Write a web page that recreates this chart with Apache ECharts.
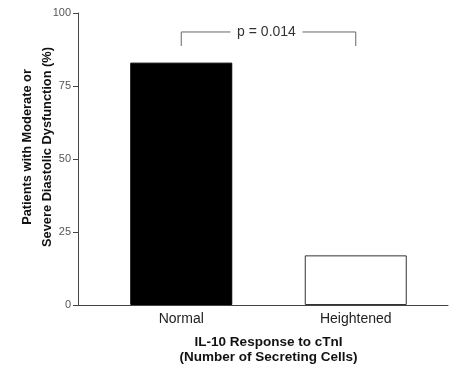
<!DOCTYPE html>
<html><head><meta charset="utf-8">
<script src="https://cdn.jsdelivr.net/npm/echarts@6/dist/echarts.min.js"></script>
<style>html,body{margin:0;padding:0;background:#fff}#c{width:450px;height:372px}</style>
</head><body><div id="c"></div>
<script>
const categories = ['Normal', 'Heightened'];
const values = [83, 17];
const yTicks = [0, 25, 50, 75, 100];
const bracketLow = 88.7;
const bracketHigh = 93.5;
const pLabel = 'p = 0.014';
const yName = 'Patients with Moderate or\nSevere Diastolic Dysfunction (%)';
const xName = 'IL-10 Response to cTnI\n(Number of Secreting Cells)';

const FONT = 'Liberation Sans, Arial, Helvetica, sans-serif';
const chart = echarts.init(document.getElementById('c'), null, {renderer: 'canvas'});
chart.setOption({
  animation: false,
  backgroundColor: '#fff',
  grid: [
    {left: 94, right: 7, top: 13, bottom: 67, containLabel: false, outerBoundsMode: 'none'},
    {left: 78, right: 2, top: 13, bottom: 67, containLabel: false, outerBoundsMode: 'none'}
  ],
  xAxis: [
    {
      type: 'category', gridIndex: 0, data: categories,
      axisLine: {show: false}, axisTick: {show: false},
      axisLabel: {color: '#222', fontSize: 14, fontFamily: FONT, margin: 7},
      name: xName, nameLocation: 'middle', nameGap: 30, nameMoveOverlap: false,
      nameTextStyle: {color: '#111', fontSize: 13.5, fontWeight: 'bold', fontFamily: FONT, lineHeight: 15, verticalAlign: 'top'}
    },
    {
      type: 'value', gridIndex: 1, min: 0, max: 1,
      axisLine: {show: true, lineStyle: {color: '#444', width: 1}},
      axisTick: {show: false}, axisLabel: {show: false}, splitLine: {show: false}
    }
  ],
  yAxis: [
    {
      type: 'value', gridIndex: 0, min: yTicks[0], max: yTicks[yTicks.length - 1], interval: 25,
      offset: 16,
      axisLine: {show: true, lineStyle: {color: '#444', width: 1}},
      axisTick: {show: true, length: 5, lineStyle: {color: '#444'}},
      axisLabel: {color: '#555', fontSize: 11, fontFamily: FONT, margin: 7},
      splitLine: {show: false},
      name: yName, nameLocation: 'middle', nameGap: 21, nameRotate: 90, nameMoveOverlap: false,
      nameTextStyle: {color: '#111', fontSize: 12.8, fontWeight: 'bold', fontFamily: FONT, lineHeight: 20,
                      padding: [0, 0, 0, 24]}
    },
    {type: 'value', gridIndex: 1, show: false, min: 0, max: 100}
  ],
  series: [
    {
      type: 'bar', xAxisIndex: 0, yAxisIndex: 0, data: values.map((v, i) => ({
        value: v,
        itemStyle: i === 0 ? {color: '#000', borderColor: '#000', borderWidth: 1}
                           : {color: '#fff', borderColor: '#333', borderWidth: 1}
      })),
      barWidth: 102
    },
    {
      type: 'line', xAxisIndex: 0, yAxisIndex: 0, symbol: 'none', z: 3,
      lineStyle: {color: '#666', width: 1},
      data: [[categories[0], bracketLow], [categories[0], bracketHigh],
             [categories[1], bracketHigh], [categories[1], bracketLow]]
    }
  ]
});
const x0 = chart.convertToPixel({xAxisIndex: 0}, categories[0]);
const x1 = chart.convertToPixel({xAxisIndex: 0}, categories[1]);
const py = chart.convertToPixel({yAxisIndex: 0}, bracketHigh);
chart.setOption({
  graphic: [
    {
      type: 'rect', z: 50, shape: {x: (x0 + x1) / 2 - 38, y: py - 8, width: 72, height: 16},
      style: {fill: '#fff'}
    },
    {
      type: 'text', z: 60, x: (x0 + x1) / 2 - 2, y: py,
      style: {text: pLabel, fontSize: 14, fontFamily: FONT, fill: '#333', align: 'center', verticalAlign: 'middle'}
    }
  ]
});
</script></body></html>
